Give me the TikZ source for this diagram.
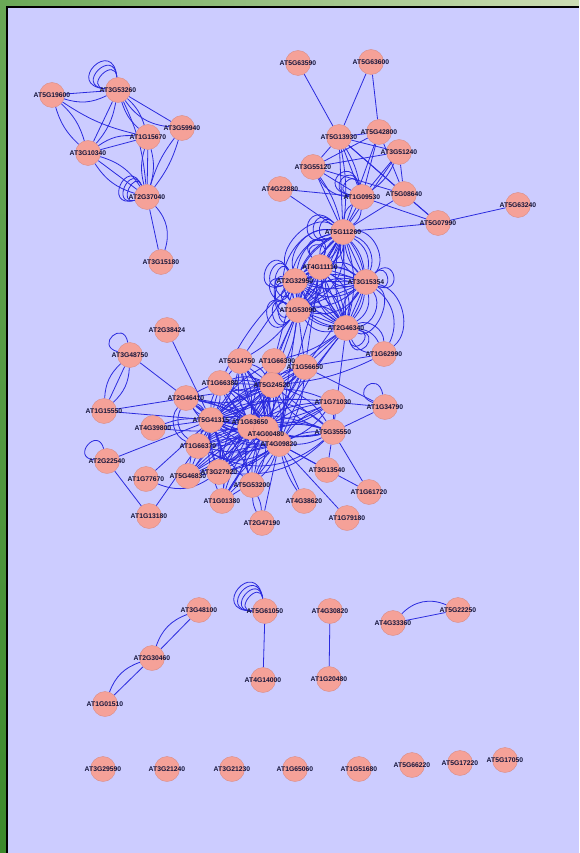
\documentclass[tikz,border=0pt]{standalone}
\usepackage{fontspec}
\setmainfont{Liberation Sans}
\pgfdeclarelayer{bgl}
\pgfdeclarelayer{edgel}
\pgfdeclarelayer{fg}
\pgfsetlayers{bgl,edgel,main,fg}
\definecolor{lav}{HTML}{CCCCFF}
\definecolor{salmon}{HTML}{F5A198}
\definecolor{salmonb}{HTML}{D98C86}
\definecolor{edgeblue}{HTML}{2A2ADE}
\definecolor{lbltext}{HTML}{16163C}
\definecolor{gdark}{HTML}{3C8A2C}
\definecolor{gmid}{HTML}{6AA857}
\definecolor{gpale}{HTML}{CCDDB4}
\tikzset{
  gnode/.style={circle,fill=salmon,draw=salmonb,line width=0.4pt,minimum size=25pt,inner sep=0pt},
  glbl/.style={font=\fontsize{6.8}{7}\selectfont\bfseries,text=lbltext,inner sep=0pt},
  lnk/.style={draw=edgeblue,line width=0.8pt},
}
\newcommand\gn[4][(0,0)]{\node[gnode] (#2) at (#3,#4) {};\begin{pgfonlayer}{fg}\node[glbl] at ([shift={#1}]#3,#4) {#2};\end{pgfonlayer}}
\begin{document}
\begin{tikzpicture}[x=1pt,y=-1pt]
\useasboundingbox (0,0) rectangle (579,853);
\begin{pgfonlayer}{bgl}
\fill[lav] (0,0) rectangle (579,853);
\shade[left color=gmid,right color=gpale] (0,0) rectangle (579,6.5);
\shade[top color=gmid,bottom color=gdark] (0,0) rectangle (6,853);
\draw[black,line width=1.6pt] (6.8,853) -- (6.8,6.8) -- (579,6.8);
\end{pgfonlayer}
% ---------- top-left cluster
\gn{AT5G19600}{52}{95}
\gn{AT3G53260}{118}{90}
\gn{AT1G15670}{148}{137}
\gn{AT3G59940}{182}{128}
\gn{AT3G10340}{88}{153}
\gn{AT2G37040}{147}{197}
\gn{AT3G15180}{161}{262}
% ---------- top-right cluster
\gn{AT5G63590}{298}{63}
\gn{AT5G63600}{371}{62}
\gn{AT5G13930}{339}{137}
\gn{AT5G42800}{379}{132}
\gn{AT3G51240}{399}{152}
\gn{AT3G55120}{313}{167}
\gn{AT4G22880}{280}{189}
\gn{AT1G09530}{362}{197}
\gn{AT5G08640}{404}{194}
\gn{AT5G07990}{438}{223}
\gn{AT5G63240}{518}{205}
\gn{AT5G11260}{343}{232}
% ---------- middle
\gn{AT4G11110}{320}{267}
\gn{AT2G32950}{295}{281}
\gn{AT3G15354}{366}{282}
\gn{AT1G53090}{298}{310}
\gn{AT2G46340}{346}{328}
\gn{AT1G62990}{384}{354}
% ---------- lower cluster
\gn{AT2G38424}{167}{330}
\gn{AT3G48750}{130}{355}
\gn{AT1G15550}{104}{411}
\gn{AT2G46410}{186}{398}
\gn{AT4G39800}{153}{428}
\gn{AT5G41315}{211}{420}
\gn{AT1G66380}{220}{383}
\gn[(-3,0)]{AT5G14750}{240}{361}
\gn[(3,0)]{AT1G66390}{274}{361}
\gn{AT1G56650}{305}{367}
\gn{AT5G24520}{272}{385}
\gn{AT1G71030}{333}{402}
\gn{AT1G34790}{385}{407}
\gn{AT5G35550}{333}{432}
\gn[(0,-5)]{AT1G63650}{250}{427}
\gn[(0,5)]{AT4G00480}{266}{429}
\gn{AT4G09820}{279}{444}
\gn{AT1G66370}{198}{446}
\gn{AT2G22540}{107}{461}
\gn{AT1G77670}{146}{479}
\gn{AT5G46830}{188}{476}
\gn{AT3G27920}{219}{472}
\gn{AT5G53200}{252}{485}
\gn{AT1G01380}{222}{501}
\gn{AT1G13180}{149}{516}
\gn{AT3G13540}{327}{470}
\gn{AT4G38620}{304}{501}
\gn{AT1G61720}{369}{492}
\gn{AT1G79180}{347}{518}
\gn{AT2G47190}{262}{523}
% ---------- bottom section
\gn{AT3G48100}{199}{610}
\gn{AT5G61050}{265}{611}
\gn{AT2G30460}{152}{658}
\gn{AT4G14000}{263}{680}
\gn{AT1G01510}{105}{704}
\gn{AT4G30820}{330}{611}
\gn{AT1G20480}{329}{679}
\gn{AT4G33360}{393}{623}
\gn{AT5G22250}{458}{610}
% ---------- bottom row
\gn{AT3G29590}{103}{769}
\gn{AT3G21240}{167}{769}
\gn{AT3G21230}{232}{769}
\gn{AT1G65060}{295}{769}
\gn{AT1G51680}{359}{769}
\gn{AT5G66220}{412}{765}
\gn{AT5G17220}{460}{763}
\gn{AT5G17050}{505}{760}
\begin{pgfonlayer}{edgel}
% top-left
\foreach \a/\b/\bb in {
AT5G19600/AT3G53260/0, AT5G19600/AT3G53260/-22,
AT5G19600/AT3G10340/15, AT5G19600/AT3G10340/-15,
AT5G19600/AT1G15670/-10,
AT3G53260/AT3G10340/0, AT3G53260/AT3G10340/15,
AT3G53260/AT1G15670/15, AT3G53260/AT1G15670/-15,
AT3G53260/AT3G59940/-25, AT3G53260/AT3G59940/0,
AT3G53260/AT2G37040/10,
AT3G10340/AT1G15670/0, AT3G10340/AT1G15670/20,
AT3G10340/AT2G37040/0, AT3G10340/AT2G37040/20, AT3G10340/AT2G37040/-20,
AT1G15670/AT2G37040/15, AT1G15670/AT2G37040/0, AT1G15670/AT2G37040/-15,
AT3G59940/AT2G37040/10, AT3G59940/AT2G37040/-10,
AT2G37040/AT3G15180/0, AT2G37040/AT3G15180/30}
  \draw[lnk] (\a) to[bend left=\bb] (\b);
\foreach \d in {22,32,42} \draw[lnk] (AT3G53260) to[out=95,in=175,min distance=\d pt] (AT3G53260);
\foreach \d in {18,26,34} \draw[lnk] (AT2G37040) to[out=115,in=195,min distance=\d pt] (AT2G37040);
% top-right
\foreach \a/\b/\bb in {
AT5G63590/AT5G13930/0, AT5G63600/AT5G13930/0, AT5G63600/AT5G42800/0,
AT5G13930/AT5G42800/0, AT5G13930/AT3G51240/0, AT5G13930/AT3G55120/0,
AT5G13930/AT1G09530/0, AT5G13930/AT1G09530/10, AT5G13930/AT5G08640/0,
AT5G13930/AT5G11260/0, AT5G13930/AT5G11260/8, AT5G13930/AT5G07990/0,
AT5G42800/AT3G55120/0, AT5G42800/AT1G09530/0, AT5G42800/AT5G08640/0, AT5G42800/AT5G11260/0,
AT3G51240/AT3G55120/0, AT3G51240/AT1G09530/0, AT3G51240/AT1G09530/15,
AT3G51240/AT5G08640/0, AT3G51240/AT5G11260/0,
AT3G55120/AT1G09530/0, AT3G55120/AT1G09530/-30, AT3G55120/AT5G11260/0,
AT3G55120/AT5G11260/10, AT3G55120/AT5G08640/0,
AT4G22880/AT1G09530/0, AT4G22880/AT5G11260/0,
AT1G09530/AT5G07990/0, AT1G09530/AT5G11260/0, AT1G09530/AT5G11260/25, AT1G09530/AT5G11260/-25,
AT5G08640/AT5G11260/0, AT5G11260/AT5G07990/0, AT5G07990/AT5G63240/0, AT5G08640/AT5G07990/0}
  \draw[lnk] (\a) to[bend left=\bb] (\b);
\foreach \d in {18,26,34} \draw[lnk] (AT1G09530) to[out=105,in=170,min distance=\d pt] (AT1G09530);
% middle (COP1/SPA/HY5)
\foreach \a/\b in {AT5G11260/AT4G11110, AT5G11260/AT2G32950, AT5G11260/AT3G15354,
AT5G11260/AT1G53090, AT5G11260/AT2G46340, AT4G11110/AT2G32950, AT4G11110/AT3G15354,
AT4G11110/AT1G53090, AT4G11110/AT2G46340, AT2G32950/AT3G15354, AT2G32950/AT1G53090,
AT2G32950/AT2G46340, AT3G15354/AT1G53090, AT3G15354/AT2G46340, AT1G53090/AT2G46340}
  \foreach \bb in {-34,-16,0,16,34} \draw[lnk] (\a) to[bend left=\bb] (\b);
\foreach \a/\b/\bb in {
AT5G11260/AT1G53090/-50, AT5G11260/AT1G53090/-70, AT5G11260/AT2G32950/-55, AT5G11260/AT2G32950/-80,
AT2G32950/AT1G53090/-60, AT2G32950/AT1G53090/-90, AT2G32950/AT1G53090/-115,
AT3G15354/AT2G46340/60, AT3G15354/AT2G46340/90,
AT2G46340/AT1G62990/30, AT2G46340/AT1G62990/-30, AT2G46340/AT1G62990/55,
AT3G15354/AT1G62990/40, AT3G15354/AT1G62990/65,
AT5G11260/AT3G15354/45, AT5G11260/AT3G15354/70}
  \draw[lnk] (\a) to[bend left=\bb] (\b);
\foreach \d in {18,28,38} \draw[lnk] (AT2G32950) to[out=120,in=200,min distance=\d pt] (AT2G32950);
\foreach \d in {18,28} \draw[lnk] (AT2G32950) to[out=170,in=245,min distance=\d pt] (AT2G32950);
\foreach \d in {18,28,38} \draw[lnk] (AT1G53090) to[out=150,in=230,min distance=\d pt] (AT1G53090);
\foreach \d in {22,32,42} \draw[lnk] (AT5G11260) to[out=135,in=205,min distance=\d pt] (AT5G11260);
\foreach \d in {18,26} \draw[lnk] (AT4G11110) to[out=70,in=130,min distance=\d pt] (AT4G11110);
\foreach \d in {18,28} \draw[lnk] (AT3G15354) to[out=-20,in=45,min distance=\d pt] (AT3G15354);
\foreach \d in {18,26} \draw[lnk] (AT2G46340) to[out=-10,in=-75,min distance=\d pt] (AT2G46340);
% middle to lower
\foreach \a/\b/\bb in {
AT1G53090/AT1G56650/0, AT1G53090/AT1G66390/0, AT1G53090/AT5G24520/0, AT1G53090/AT5G24520/12,
AT1G53090/AT4G09820/0, AT1G53090/AT4G00480/-10, AT1G53090/AT5G14750/10,
AT2G46340/AT1G56650/0, AT2G46340/AT5G24520/0, AT2G46340/AT4G00480/0, AT2G46340/AT5G35550/0,
AT2G46340/AT1G66390/10, AT2G46340/AT4G09820/-8,
AT2G32950/AT1G66390/0, AT2G32950/AT5G14750/0, AT2G32950/AT1G66380/-10,
AT4G11110/AT1G56650/0, AT3G15354/AT1G56650/0, AT5G11260/AT4G09820/-6,
AT1G62990/AT1G56650/0, AT1G62990/AT5G24520/10}
  \draw[lnk] (\a) to[bend left=\bb] (\b);
% lower hub
\foreach \h in {AT5G41315,AT1G63650,AT4G00480,AT4G09820}
  \foreach \p in {AT1G66380,AT1G66390,AT1G56650,AT5G14750,AT1G66370,AT3G27920,AT5G24520,
                  AT2G46410,AT5G53200,AT5G35550,AT1G71030,AT1G01380,AT5G46830}
    \foreach \bb in {-14,14} \draw[lnk] (\h) to[bend left=\bb] (\p);
\foreach \a/\b in {AT5G41315/AT1G63650,AT5G41315/AT4G00480,AT5G41315/AT4G09820,
AT1G63650/AT4G00480,AT1G63650/AT4G09820,AT4G00480/AT4G09820,
AT5G24520/AT1G66380,AT5G24520/AT1G66390,AT5G24520/AT1G56650,AT5G24520/AT5G14750,
AT5G24520/AT3G27920,AT5G24520/AT5G35550,AT5G24520/AT1G66370,AT5G24520/AT2G46410}
  \foreach \bb in {-20,0,20} \draw[lnk] (\a) to[bend left=\bb] (\b);
\foreach \a/\b/\bb in {
AT5G41315/AT5G35550/35, AT5G41315/AT1G71030/30, AT2G46410/AT4G09820/-30,
AT1G66370/AT4G09820/-30, AT3G27920/AT5G35550/-25, AT1G66370/AT5G35550/-35,
AT2G46410/AT1G66370/-40, AT2G46410/AT1G66370/-55,
AT2G38424/AT5G41315/0,
AT3G48750/AT1G15550/0, AT3G48750/AT1G15550/22, AT3G48750/AT1G15550/-22, AT3G48750/AT2G46410/0,
AT1G15550/AT5G41315/0, AT1G15550/AT2G46410/0,
AT4G39800/AT5G41315/0, AT4G39800/AT5G41315/12, AT4G39800/AT1G63650/-6,
AT2G22540/AT1G13180/0, AT2G22540/AT5G41315/0,
AT1G77670/AT5G41315/0, AT1G77670/AT3G27920/-28,
AT5G46830/AT5G41315/0, AT5G46830/AT1G63650/0,
AT1G13180/AT1G66370/0,
AT3G27920/AT5G41315/10, AT3G27920/AT5G41315/-10,
AT5G53200/AT2G47190/12, AT5G53200/AT2G47190/-12,
AT1G01380/AT4G00480/0,
AT2G47190/AT4G09820/0,
AT3G13540/AT4G09820/0, AT3G13540/AT5G35550/0,
AT4G38620/AT4G09820/0, AT4G38620/AT4G09820/10,
AT1G79180/AT4G09820/0,
AT1G61720/AT5G35550/0, AT1G61720/AT4G09820/0,
AT5G35550/AT1G34790/0, AT5G35550/AT1G71030/0,
AT1G34790/AT1G56650/0, AT1G34790/AT1G71030/0}
  \draw[lnk] (\a) to[bend left=\bb] (\b);
\draw[lnk] (AT3G48750) to[out=100,in=165,min distance=24pt] (AT3G48750);
\draw[lnk] (AT2G22540) to[out=105,in=175,min distance=24pt] (AT2G22540);
\draw[lnk] (AT1G34790) to[out=100,in=160,min distance=26pt] (AT1G34790);
% bottom section
\draw[lnk] (AT3G48100) -- (AT2G30460);
\draw[lnk] (AT3G48100) to[bend left=-25] (AT2G30460);
\draw[lnk] (AT2G30460) -- (AT1G01510);
\draw[lnk] (AT2G30460) to[bend left=-25] (AT1G01510);
\foreach \d in {20,28,36,44} \draw[lnk] (AT5G61050) to[out=100,in=180,min distance=\d pt] (AT5G61050);
\draw[lnk] (AT5G61050) -- (AT4G14000);
\draw[lnk] (AT4G30820) -- (AT1G20480);
\draw[lnk] (AT4G33360) -- (AT5G22250);
\draw[lnk] (AT4G33360) to[bend left=35] (AT5G22250);
\end{pgfonlayer}
\end{tikzpicture}
\end{document}
